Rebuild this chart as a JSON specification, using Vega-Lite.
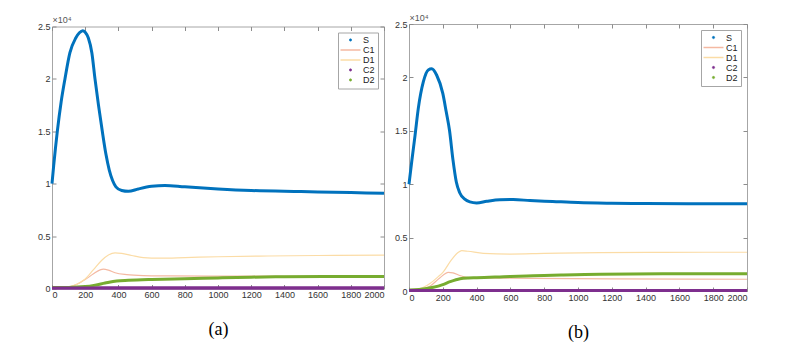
{
  "$schema": "https://vega.github.io/schema/vega-lite/v6.json",
  "padding": {"left": 36, "top": 12, "right": 5, "bottom": 5},
  "background": "white",
  "bounds": "flush",
  "center": true,
  "spacing": 25,
  "config": {
    "font": "Liberation Sans",
    "view": {"stroke": "#a6a6a6", "strokeWidth": 1},
    "axis": {"grid": false, "domain": false, "tickColor": "#8c8c8c", "tickSize": -4, "labelColor": "#333333", "labelFontSize": 9, "labelPadding": 6, "labelOverlap": false, "titleFontWeight": "normal"},
    "legend": {
      "orient": "top-right", "offset": 6, "fillColor": "white", "strokeColor": "#a6a6a6", "padding": 3,
      "symbolSize": 64, "symbolStrokeWidth": 1.5, "labelFontSize": 9, "labelColor": "#222222",
      "rowPadding": 0, "labelOffset": 13
    }
  },
  "datasets": {
    "a": [
      {"t": 0, "v": 10000, "series": "S"}, {"t": 10, "v": 11700, "series": "S"}, {"t": 32, "v": 15000, "series": "S"}, {"t": 55, "v": 17800, "series": "S"}, {"t": 78, "v": 20000, "series": "S"}, {"t": 108, "v": 22500, "series": "S"}, {"t": 143, "v": 23900, "series": "S"}, {"t": 165, "v": 24400, "series": "S"}, {"t": 185, "v": 24600, "series": "S"}, {"t": 200, "v": 24450, "series": "S"}, {"t": 219, "v": 23900, "series": "S"}, {"t": 240, "v": 22500, "series": "S"}, {"t": 259, "v": 20000, "series": "S"}, {"t": 280, "v": 17500, "series": "S"}, {"t": 303, "v": 15000, "series": "S"}, {"t": 325, "v": 12800, "series": "S"}, {"t": 345, "v": 11300, "series": "S"}, {"t": 365, "v": 10300, "series": "S"}, {"t": 385, "v": 9700, "series": "S"}, {"t": 420, "v": 9350, "series": "S"}, {"t": 460, "v": 9270, "series": "S"}, {"t": 520, "v": 9500, "series": "S"}, {"t": 600, "v": 9750, "series": "S"}, {"t": 680, "v": 9840, "series": "S"}, {"t": 800, "v": 9700, "series": "S"}, {"t": 1000, "v": 9500, "series": "S"}, {"t": 1200, "v": 9350, "series": "S"}, {"t": 1500, "v": 9250, "series": "S"}, {"t": 1800, "v": 9150, "series": "S"}, {"t": 2000, "v": 9080, "series": "S"},
      {"t": 0, "v": 100, "series": "C1"}, {"t": 100, "v": 150, "series": "C1"}, {"t": 150, "v": 400, "series": "C1"}, {"t": 200, "v": 850, "series": "C1"}, {"t": 250, "v": 1400, "series": "C1"}, {"t": 290, "v": 1780, "series": "C1"}, {"t": 310, "v": 1840, "series": "C1"}, {"t": 340, "v": 1750, "series": "C1"}, {"t": 380, "v": 1500, "series": "C1"}, {"t": 450, "v": 1320, "series": "C1"}, {"t": 550, "v": 1230, "series": "C1"}, {"t": 700, "v": 1200, "series": "C1"}, {"t": 1000, "v": 1180, "series": "C1"}, {"t": 1500, "v": 1170, "series": "C1"}, {"t": 2000, "v": 1160, "series": "C1"},
      {"t": 0, "v": 100, "series": "D1"}, {"t": 100, "v": 150, "series": "D1"}, {"t": 150, "v": 400, "series": "D1"}, {"t": 200, "v": 900, "series": "D1"}, {"t": 250, "v": 1800, "series": "D1"}, {"t": 300, "v": 2700, "series": "D1"}, {"t": 340, "v": 3200, "series": "D1"}, {"t": 380, "v": 3400, "series": "D1"}, {"t": 420, "v": 3350, "series": "D1"}, {"t": 480, "v": 3150, "series": "D1"}, {"t": 550, "v": 2950, "series": "D1"}, {"t": 650, "v": 2900, "series": "D1"}, {"t": 800, "v": 2950, "series": "D1"}, {"t": 1000, "v": 3030, "series": "D1"}, {"t": 1300, "v": 3100, "series": "D1"}, {"t": 1600, "v": 3150, "series": "D1"}, {"t": 2000, "v": 3180, "series": "D1"},
      {"t": 0, "v": 40, "series": "C2"}, {"t": 2000, "v": 40, "series": "C2"},
      {"t": 0, "v": 100, "series": "D2"}, {"t": 100, "v": 100, "series": "D2"}, {"t": 200, "v": 180, "series": "D2"}, {"t": 260, "v": 320, "series": "D2"}, {"t": 320, "v": 520, "series": "D2"}, {"t": 390, "v": 720, "series": "D2"}, {"t": 460, "v": 780, "series": "D2"}, {"t": 600, "v": 860, "series": "D2"}, {"t": 800, "v": 940, "series": "D2"}, {"t": 1000, "v": 1010, "series": "D2"}, {"t": 1200, "v": 1080, "series": "D2"}, {"t": 1400, "v": 1120, "series": "D2"}, {"t": 1700, "v": 1140, "series": "D2"}, {"t": 2000, "v": 1150, "series": "D2"}
    ],
    "b": [
      {"t": 0, "v": 10000, "series": "S"}, {"t": 16, "v": 12100, "series": "S"}, {"t": 36, "v": 14600, "series": "S"}, {"t": 55, "v": 17100, "series": "S"}, {"t": 85, "v": 19600, "series": "S"}, {"t": 114, "v": 20700, "series": "S"}, {"t": 134, "v": 20800, "series": "S"}, {"t": 164, "v": 20200, "series": "S"}, {"t": 200, "v": 18500, "series": "S"}, {"t": 220, "v": 16800, "series": "S"}, {"t": 240, "v": 15000, "series": "S"}, {"t": 260, "v": 12300, "series": "S"}, {"t": 280, "v": 10200, "series": "S"}, {"t": 300, "v": 9200, "series": "S"}, {"t": 330, "v": 8600, "series": "S"}, {"t": 360, "v": 8350, "series": "S"}, {"t": 400, "v": 8250, "series": "S"}, {"t": 460, "v": 8400, "series": "S"}, {"t": 538, "v": 8540, "series": "S"}, {"t": 617, "v": 8560, "series": "S"}, {"t": 716, "v": 8470, "series": "S"}, {"t": 850, "v": 8380, "series": "S"}, {"t": 1000, "v": 8280, "series": "S"}, {"t": 1200, "v": 8220, "series": "S"}, {"t": 1400, "v": 8190, "series": "S"}, {"t": 1700, "v": 8170, "series": "S"}, {"t": 2000, "v": 8160, "series": "S"},
      {"t": 0, "v": 100, "series": "C1"}, {"t": 60, "v": 150, "series": "C1"}, {"t": 124, "v": 450, "series": "C1"}, {"t": 180, "v": 1200, "series": "C1"}, {"t": 233, "v": 1750, "series": "C1"}, {"t": 260, "v": 1700, "series": "C1"}, {"t": 300, "v": 1450, "series": "C1"}, {"t": 341, "v": 1280, "series": "C1"}, {"t": 450, "v": 1200, "series": "C1"}, {"t": 736, "v": 1190, "series": "C1"}, {"t": 1200, "v": 1130, "series": "C1"}, {"t": 2000, "v": 1100, "series": "C1"},
      {"t": 0, "v": 100, "series": "D1"}, {"t": 60, "v": 200, "series": "D1"}, {"t": 124, "v": 700, "series": "D1"}, {"t": 170, "v": 1300, "series": "D1"}, {"t": 203, "v": 1800, "series": "D1"}, {"t": 250, "v": 2900, "series": "D1"}, {"t": 290, "v": 3600, "series": "D1"}, {"t": 312, "v": 3780, "series": "D1"}, {"t": 350, "v": 3720, "series": "D1"}, {"t": 440, "v": 3530, "series": "D1"}, {"t": 600, "v": 3460, "series": "D1"}, {"t": 800, "v": 3520, "series": "D1"}, {"t": 1131, "v": 3600, "series": "D1"}, {"t": 1500, "v": 3620, "series": "D1"}, {"t": 2000, "v": 3630, "series": "D1"},
      {"t": 0, "v": 40, "series": "C2"}, {"t": 2000, "v": 40, "series": "C2"},
      {"t": 0, "v": 100, "series": "D2"}, {"t": 60, "v": 150, "series": "D2"}, {"t": 144, "v": 350, "series": "D2"}, {"t": 200, "v": 600, "series": "D2"}, {"t": 243, "v": 870, "series": "D2"}, {"t": 302, "v": 1150, "series": "D2"}, {"t": 350, "v": 1220, "series": "D2"}, {"t": 400, "v": 1240, "series": "D2"}, {"t": 600, "v": 1360, "series": "D2"}, {"t": 736, "v": 1420, "series": "D2"}, {"t": 900, "v": 1500, "series": "D2"}, {"t": 1131, "v": 1580, "series": "D2"}, {"t": 1500, "v": 1610, "series": "D2"}, {"t": 2000, "v": 1620, "series": "D2"}
    ]
  },
  "resolve": {"scale": {"color": "independent"}},
  "hconcat": [
    {
      "width": 332, "height": 262,
      "data": {"name": "a"},
      "resolve": {"axis": {"x": "independent", "y": "independent"}},
      "layer": [
        {
          "transform": [{"filter": "datum.series === 'C1' || datum.series === 'D1'"}],
          "mark": {"type": "line", "interpolate": "monotone", "strokeWidth": 1.2},
          "encoding": {
            "x": {"field": "t", "type": "quantitative", "scale": {"domain": [0, 2000], "nice": false},
                  "axis": {"values": [0, 200, 400, 600, 800, 1000, 1200, 1400, 1600, 1800, 2000], "format": "d", "title": "(a)", "titleFont": "Liberation Serif", "titleFontSize": 18, "titleColor": "#000000", "titlePadding": 21}},
            "y": {"field": "v", "type": "quantitative", "scale": {"domain": [0, 25000], "nice": false},
                  "axis": {"values": [0, 5000, 10000, 15000, 20000, 25000], "labelExpr": "datum.value/10000 + ''", "title": "×10⁴", "titleAngle": 0, "titleX": 0, "titleY": -2, "titleAlign": "left", "titleBaseline": "bottom", "titleFontSize": 9, "titleColor": "#555555", "titleFont": "Liberation Sans"}},
            "color": {"field": "series", "type": "nominal", "scale": {"domain": ["S", "C1", "D1", "C2", "D2"], "range": ["#0072bd", "#f4b9a2", "#fbdca6", "#7e2f8e", "#77ac30"]},
                      "legend": {"title": null, "encode": {"symbols": {"update": {
                        "shape": {"signal": "datum.value==='C1'||datum.value==='D1' ? 'M-1.25,0H3.75' : 'M1.55,0A0.3,0.3,0,1,1,0.95,0A0.3,0.3,0,1,1,1.55,0Z'"},
                        "size": {"value": 64},
                        "strokeWidth": {"signal": "datum.value==='C1'||datum.value==='D1' ? 1.5 : 0.5"},
                        "fill": {"signal": "datum.value==='S' ? '#0072bd' : datum.value==='C2' ? '#7e2f8e' : datum.value==='D2' ? '#77ac30' : 'transparent'"}
                      }}}}}
          }
        },
        {
          "transform": [{"filter": "datum.series === 'S' || datum.series === 'D2' || datum.series === 'C2'"}],
          "mark": {"type": "line", "interpolate": "monotone", "strokeWidth": 3},
          "encoding": {
            "x": {"field": "t", "type": "quantitative", "axis": null},
            "y": {"field": "v", "type": "quantitative", "axis": null},
            "color": {"field": "series", "type": "nominal"}
          }
        },
        {
          "transform": [{"filter": "datum.series === 'C2'"}],
          "mark": {"type": "line", "color": "#7e2f8e", "strokeWidth": 3},
          "encoding": {
            "x": {"field": "t", "type": "quantitative", "axis": {"orient": "top", "values": [0, 200, 400, 600, 800, 1000, 1200, 1400, 1600, 1800, 2000], "labels": false, "title": null}},
            "y": {"field": "v", "type": "quantitative", "axis": {"orient": "right", "values": [0, 5000, 10000, 15000, 20000, 25000], "labels": false, "title": null}}
          }
        }
      ]
    },
    {
      "width": 338, "height": 267,
      "data": {"name": "b"},
      "resolve": {"axis": {"x": "independent", "y": "independent"}},
      "layer": [
        {
          "transform": [{"filter": "datum.series === 'C1' || datum.series === 'D1'"}],
          "mark": {"type": "line", "interpolate": "monotone", "strokeWidth": 1.2},
          "encoding": {
            "x": {"field": "t", "type": "quantitative", "scale": {"domain": [0, 2000], "nice": false},
                  "axis": {"values": [0, 200, 400, 600, 800, 1000, 1200, 1400, 1600, 1800, 2000], "format": "d", "title": "(b)", "titleFont": "Liberation Serif", "titleFontSize": 18, "titleColor": "#000000", "titlePadding": 21}},
            "y": {"field": "v", "type": "quantitative", "scale": {"domain": [0, 25000], "nice": false},
                  "axis": {"values": [0, 5000, 10000, 15000, 20000, 25000], "labelExpr": "datum.value/10000 + ''", "title": "×10⁴", "titleAngle": 0, "titleX": 0, "titleY": -2, "titleAlign": "left", "titleBaseline": "bottom", "titleFontSize": 9, "titleColor": "#555555", "titleFont": "Liberation Sans"}},
            "color": {"field": "series", "type": "nominal", "scale": {"domain": ["S", "C1", "D1", "C2", "D2"], "range": ["#0072bd", "#f4b9a2", "#fbdca6", "#7e2f8e", "#77ac30"]},
                      "legend": {"title": null, "encode": {"symbols": {"update": {
                        "shape": {"signal": "datum.value==='C1'||datum.value==='D1' ? 'M-1.25,0H3.75' : 'M1.55,0A0.3,0.3,0,1,1,0.95,0A0.3,0.3,0,1,1,1.55,0Z'"},
                        "size": {"value": 64},
                        "strokeWidth": {"signal": "datum.value==='C1'||datum.value==='D1' ? 1.5 : 0.5"},
                        "fill": {"signal": "datum.value==='S' ? '#0072bd' : datum.value==='C2' ? '#7e2f8e' : datum.value==='D2' ? '#77ac30' : 'transparent'"}
                      }}}}}
          }
        },
        {
          "transform": [{"filter": "datum.series === 'S' || datum.series === 'D2' || datum.series === 'C2'"}],
          "mark": {"type": "line", "interpolate": "monotone", "strokeWidth": 3},
          "encoding": {
            "x": {"field": "t", "type": "quantitative", "axis": null},
            "y": {"field": "v", "type": "quantitative", "axis": null},
            "color": {"field": "series", "type": "nominal"}
          }
        },
        {
          "transform": [{"filter": "datum.series === 'C2'"}],
          "mark": {"type": "line", "color": "#7e2f8e", "strokeWidth": 3},
          "encoding": {
            "x": {"field": "t", "type": "quantitative", "axis": {"orient": "top", "values": [0, 200, 400, 600, 800, 1000, 1200, 1400, 1600, 1800, 2000], "labels": false, "title": null}},
            "y": {"field": "v", "type": "quantitative", "axis": {"orient": "right", "values": [0, 5000, 10000, 15000, 20000, 25000], "labels": false, "title": null}}
          }
        }
      ]
    }
  ]
}
